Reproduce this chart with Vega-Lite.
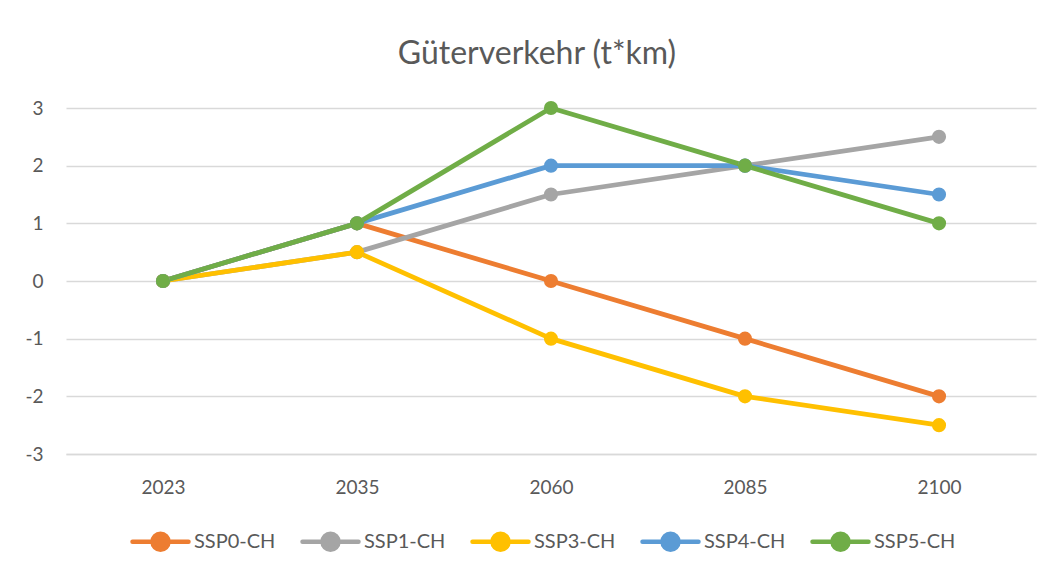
{
  "$schema": "https://vega.github.io/schema/vega-lite/v6.json",
  "width": 970,
  "height": 346,
  "autosize": {"type": "none"},
  "padding": {"left": 66, "top": 108, "right": 19, "bottom": 119},
  "background": "white",
  "title": {
    "text": "Güterverkehr (t*km)",
    "font": "Lato",
    "fontSize": 32,
    "fontWeight": "normal",
    "color": "#595959",
    "anchor": "middle",
    "frame": "group",
    "baseline": "alphabetic",
    "dx": -14,
    "offset": 3
  },
  "data": {
    "values": [
      {"year": "2023", "series": "SSP0-CH", "value": 0},
      {"year": "2035", "series": "SSP0-CH", "value": 1},
      {"year": "2060", "series": "SSP0-CH", "value": 0},
      {"year": "2085", "series": "SSP0-CH", "value": -1},
      {"year": "2100", "series": "SSP0-CH", "value": -2},
      {"year": "2023", "series": "SSP1-CH", "value": 0},
      {"year": "2035", "series": "SSP1-CH", "value": 0.5},
      {"year": "2060", "series": "SSP1-CH", "value": 1.5},
      {"year": "2085", "series": "SSP1-CH", "value": 2},
      {"year": "2100", "series": "SSP1-CH", "value": 2.5},
      {"year": "2023", "series": "SSP3-CH", "value": 0},
      {"year": "2035", "series": "SSP3-CH", "value": 0.5},
      {"year": "2060", "series": "SSP3-CH", "value": -1},
      {"year": "2085", "series": "SSP3-CH", "value": -2},
      {"year": "2100", "series": "SSP3-CH", "value": -2.5},
      {"year": "2023", "series": "SSP4-CH", "value": 0},
      {"year": "2035", "series": "SSP4-CH", "value": 1},
      {"year": "2060", "series": "SSP4-CH", "value": 2},
      {"year": "2085", "series": "SSP4-CH", "value": 2},
      {"year": "2100", "series": "SSP4-CH", "value": 1.5},
      {"year": "2023", "series": "SSP5-CH", "value": 0},
      {"year": "2035", "series": "SSP5-CH", "value": 1},
      {"year": "2060", "series": "SSP5-CH", "value": 3},
      {"year": "2085", "series": "SSP5-CH", "value": 2},
      {"year": "2100", "series": "SSP5-CH", "value": 1}
    ]
  },
  "encoding": {
    "x": {
      "field": "year",
      "type": "ordinal",
      "scale": {"type": "point", "padding": 0.5},
      "axis": {
        "title": null,
        "labelAngle": 0,
        "ticks": false,
        "domain": true,
        "domainColor": "#D9D9D9",
        "domainWidth": 1.3,
        "grid": false,
        "labelFont": "Lato",
        "labelFontSize": 19,
        "labelColor": "#595959",
        "labelPadding": 24
      }
    },
    "y": {
      "field": "value",
      "type": "quantitative",
      "scale": {"domain": [-3, 3], "nice": false, "zero": false},
      "axis": {
        "title": null,
        "values": [-3, -2, -1, 0, 1, 2, 3],
        "labelExpr": "'' + datum.value",
        "ticks": false,
        "domain": false,
        "grid": true,
        "gridColor": "#D9D9D9",
        "gridWidth": 1.3,
        "labelFont": "Lato",
        "labelFontSize": 19,
        "labelColor": "#595959",
        "labelPadding": 23
      }
    },
    "color": {
      "field": "series",
      "type": "nominal",
      "scale": {
        "domain": ["SSP0-CH", "SSP1-CH", "SSP3-CH", "SSP4-CH", "SSP5-CH"],
        "range": ["#ED7D31", "#A5A5A5", "#FFC000", "#5B9BD5", "#70AD47"]
      },
      "legend": {
        "title": null,
        "orient": "none",
        "direction": "horizontal",
        "legendX": 64,
        "legendY": 403,
        "symbolType": "M-1,0L1,0M0.2857,0A0.2857,0.2857,0,1,1,-0.2857,0A0.2857,0.2857,0,1,1,0.2857,0Z",
        "symbolSize": 3136,
        "symbolStrokeWidth": 4.5,
        "symbolOpacity": 1,
        "labelFont": "Lato",
        "labelFontSize": 20,
        "labelColor": "#595959",
        "labelOffset": 3,
        "columnPadding": 17,
        "encode": {
          "symbols": {
            "update": {
              "fill": {"scale": "color", "field": "value"},
              "stroke": {"scale": "color", "field": "value"},
              "strokeCap": {"value": "round"}
            }
          }
        }
      }
    }
  },
  "layer": [
    {
      "mark": {"type": "line", "strokeWidth": 4.8, "strokeCap": "round", "strokeJoin": "round"}
    },
    {
      "mark": {"type": "point", "filled": true, "size": 200, "opacity": 1, "shape": "circle"}
    }
  ],
  "config": {
    "view": {"stroke": null}
  }
}
